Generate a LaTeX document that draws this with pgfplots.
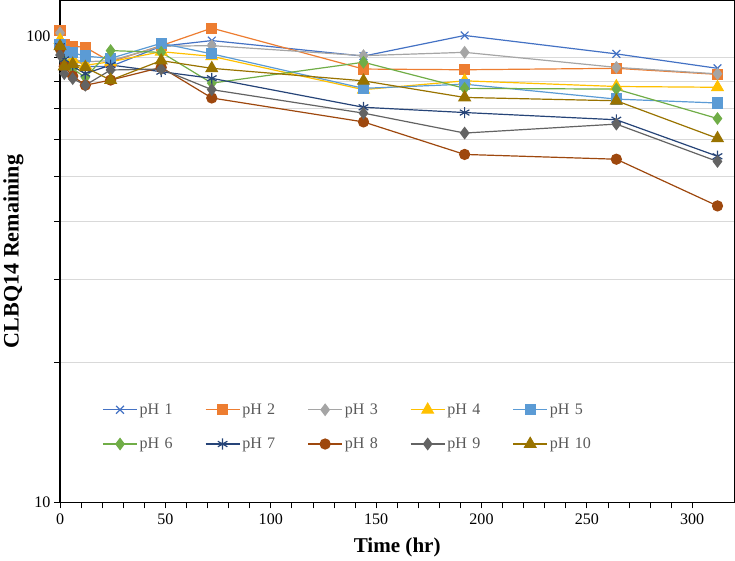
\documentclass[border=0pt]{standalone}
\usepackage{fontspec}
\setmainfont{Liberation Serif}
\usepackage{pgfplots}
\pgfplotsset{compat=1.18}
\definecolor{c1}{HTML}{4472C4}
\definecolor{c2}{HTML}{ED7D31}
\definecolor{c3}{HTML}{A5A5A5}
\definecolor{c4}{HTML}{FFC000}
\definecolor{c5}{HTML}{5B9BD5}
\definecolor{c6}{HTML}{70AD47}
\definecolor{c7}{HTML}{264478}
\definecolor{c8}{HTML}{9E480E}
\definecolor{c9}{HTML}{636363}
\definecolor{c10}{HTML}{997300}
\definecolor{gridc}{HTML}{D9D9D9}
\definecolor{legtext}{HTML}{595959}
\begin{document}
\begin{tikzpicture}
\begin{axis}[
  scale only axis,
  width=672pt, height=500pt,
  ymode=log,
  xmin=0, xmax=320, ymin=10, ymax=119,
  xtick distance=50, minor x tick num=4,
  ytick={10,100}, minor ytick={20,30,40,50,60,70,80,90},
  log ticks with fixed point,
  ymajorgrids=false, yminorgrids=true,
  minor grid style={gridc, line width=0.8pt},
  tick align=outside, tick pos=left,
  major tick length=6pt, minor tick length=6pt,
  tick style={black, line width=0.8pt},
  axis line style={black, line width=1.3pt},
  /pgf/number format/assume math mode=true,
  ticklabel style={font=\fontsize{16}{19}\selectfont},
  xticklabel style={yshift=-2pt},
  xlabel={\textbf{Time (hr)}},
  ylabel={\textbf{CLBQ14 Remaining}},
  xlabel style={font=\fontsize{21}{25}\selectfont, yshift=-6pt},
  ylabel style={font=\fontsize{22}{26}\selectfont, yshift=-4pt},
  every axis plot/.append style={line width=1.2pt},
  legend columns=5,
  legend style={draw=none, fill=none, at={(0.058,0.205)}, anchor=north west,
    font=\fontsize{16}{19}\selectfont, text=legtext, row sep=18pt,
    /tikz/every even column/.append style={column sep=21pt, text width=42pt}},
  legend image code/.code={\draw[mark repeat=2,mark phase=2] plot coordinates {(0pt,0pt) (17pt,0pt) (34pt,0pt)};},
]
\addplot[c1, mark=x, mark size=5.5pt, mark options={line width=1.2pt}] coordinates {(0,103) (2,95) (6,90) (12,86) (24,86) (48,95) (72,97.7) (144,90.5) (192,100.2) (264,91.5) (312,85.2)};
\addlegendentry{pH 1}
\addplot[c2, mark=square*, mark size=5pt] coordinates {(0,102.7) (2,96) (6,95) (12,94.5) (24,88) (48,95.3) (72,103.9) (144,84.9) (192,84.6) (264,85.2) (312,82.7)};
\addlegendentry{pH 2}
\addplot[c3, mark=diamond*, mark size=5.5pt] coordinates {(0,101.5) (2,92) (6,89) (12,88) (24,88.5) (48,95) (72,95.3) (144,90.7) (192,92.2) (264,85.6) (312,82.9)};
\addlegendentry{pH 3}
\addplot[c4, mark=triangle*, mark size=6.5pt] coordinates {(0,98) (2,93) (6,89) (12,86.5) (24,88) (48,92.5) (72,90.4) (144,76.7) (192,80.1) (264,77.9) (312,77.6)};
\addlegendentry{pH 4}
\addplot[c5, mark=square*, mark size=5pt] coordinates {(0,96) (2,92.5) (6,92) (12,90.5) (24,89.5) (48,96.4) (72,91.5) (144,77.2) (192,78.8) (264,73.2) (312,71.8)};
\addlegendentry{pH 5}
\addplot[c6, mark=diamond*, mark size=5.5pt] coordinates {(0,93) (2,88) (6,85) (12,81.5) (24,93) (48,92.2) (72,79.2) (144,87.8) (192,77.2) (264,76.9) (312,66.5)};
\addlegendentry{pH 6}
\addplot[c7, mark=asterisk, mark size=5.5pt, mark options={line width=1.2pt}] coordinates {(0,95) (2,89) (6,86) (12,83) (24,86.6) (48,83.8) (72,81.1) (144,70.3) (192,68.5) (264,66.1) (312,55.2)};
\addlegendentry{pH 7}
\addplot[c8, mark=*, mark size=5pt] coordinates {(0,94) (2,86) (6,82) (12,78.4) (24,80.4) (48,85.6) (72,73.6) (144,65.4) (192,55.7) (264,54.4) (312,43.2)};
\addlegendentry{pH 8}
\addplot[c9, mark=diamond*, mark size=5.5pt] coordinates {(0,91) (2,83) (6,81) (12,78.4) (24,84.5) (48,84.9) (72,76.7) (144,68.3) (192,61.9) (264,64.7) (312,53.8)};
\addlegendentry{pH 9}
\addplot[c10, mark=triangle*, mark size=6.5pt] coordinates {(0,95) (2,86) (6,87) (12,85.6) (24,80.4) (48,88.5) (72,85.2) (144,80.1) (192,73.8) (264,72.6) (312,60.3)};
\addlegendentry{pH 10}
\end{axis}
\end{tikzpicture}
\end{document}
